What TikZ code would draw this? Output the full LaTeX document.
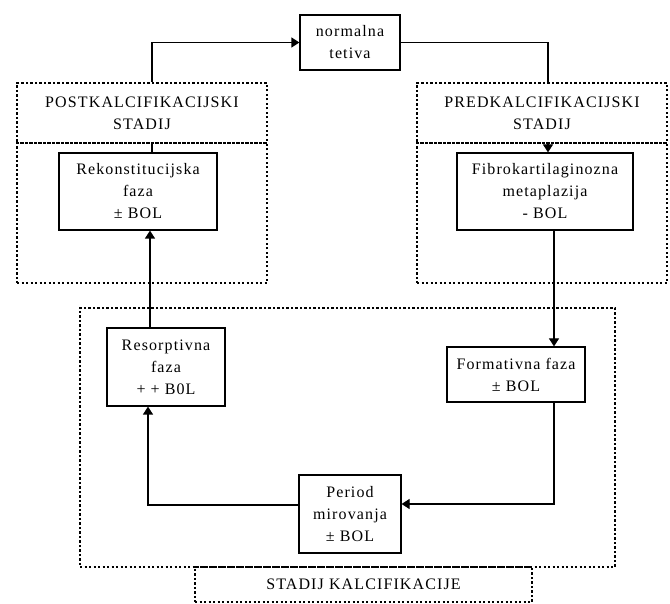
\documentclass[tikz,border=0pt]{standalone}
\usepackage{fontspec}
\setmainfont[LetterSpace=7]{Liberation Serif}
\usetikzlibrary{arrows.meta, calc}
\tikzstyle{arrow} = [line width=0.6pt,-{Triangle[length=4pt,width=5pt]}]
\tikzstyle{line} = [line width=0.6pt]
\tikzstyle{phase} = [draw, line width=0.6pt, inner sep=0pt, align=center]
\tikzstyle{stage} = [draw, line width=1.3pt, dash pattern=on 1.2pt off 1.05pt, inner sep=0pt, align=center]

\begin{document}
\begin{tikzpicture}[x=0.5pt, y=-0.5pt, every node/.style={font=\fontsize{8}{11}\selectfont}]
        \useasboundingbox (0,0) rectangle (670,604);

        % stadiji (tockasti okviri)
        \node at (142,213) [stage, minimum width=125pt, minimum height=70pt](postbody) {};
        \node at (142,113) [stage, minimum width=125pt, minimum height=30pt](postlbl) {POSTKALCIFIKACIJSKI\\STADIJ};
        \node at (542,213) [stage, minimum width=125pt, minimum height=70pt](predbody) {};
        \node at (542,113) [stage, minimum width=125pt, minimum height=30pt](predlbl) {PREDKALCIFIKACIJSKI\\STADIJ};
        \node at (347.5,437.5) [stage, minimum width=267.5pt, minimum height=129.5pt](kalcbody) {};
        \node at (363.5,584.5) [stage, minimum width=168.5pt, minimum height=17.5pt](kalclbl) {STADIJ KALCIFIKACIJE};

        % faze
        \node at (350,42.5) [phase, minimum width=50pt, minimum height=27.5pt](normal) {normalna\\tetiva};
        \node at (138,191.5) [phase, minimum width=79pt, minimum height=38.5pt](rek) {Rekonstitucijska\\faza\\± BOL};
        \node at (545,191.5) [phase, minimum width=88pt, minimum height=38.5pt](fib) {Fibrokartilaginozna\\metaplazija\\- BOL};
        \node at (516,374.5) [phase, minimum width=69pt, minimum height=27.5pt](form) {Formativna faza\\± BOL};
        \node at (350,514) [phase, minimum width=51pt, minimum height=39pt](period) {Period\\mirovanja\\± BOL};
        \node at (166,367) [phase, minimum width=59pt, minimum height=39pt](res) {Resorptivna\\faza\\+ + B0L};

        \draw[arrow] ([xshift=5pt]postlbl.north) |- (normal.west);
        \draw[line] (normal.east) -| ([xshift=3pt]predlbl.north);
        \draw[arrow] ([xshift=3pt]predlbl.south) -- ([xshift=1.5pt]fib.north);
        \draw[arrow] ([xshift=4.5pt]fib.south) -- ([xshift=4.5pt]fib.south |- form.north);
        \draw[arrow] ([xshift=19pt]form.south) |- ([yshift=5pt]period.east);
        \draw[arrow] ([yshift=4.5pt]period.west) -| ([xshift=-9pt]res.south);
        \draw[arrow] ([xshift=-8pt]res.north) -- ([xshift=-8pt]res.north |- rek.south);
        \draw[line] ([xshift=7pt]rek.north) -- ([xshift=7pt]rek.north |- postlbl.south);

    \end{tikzpicture}
\end{document}
